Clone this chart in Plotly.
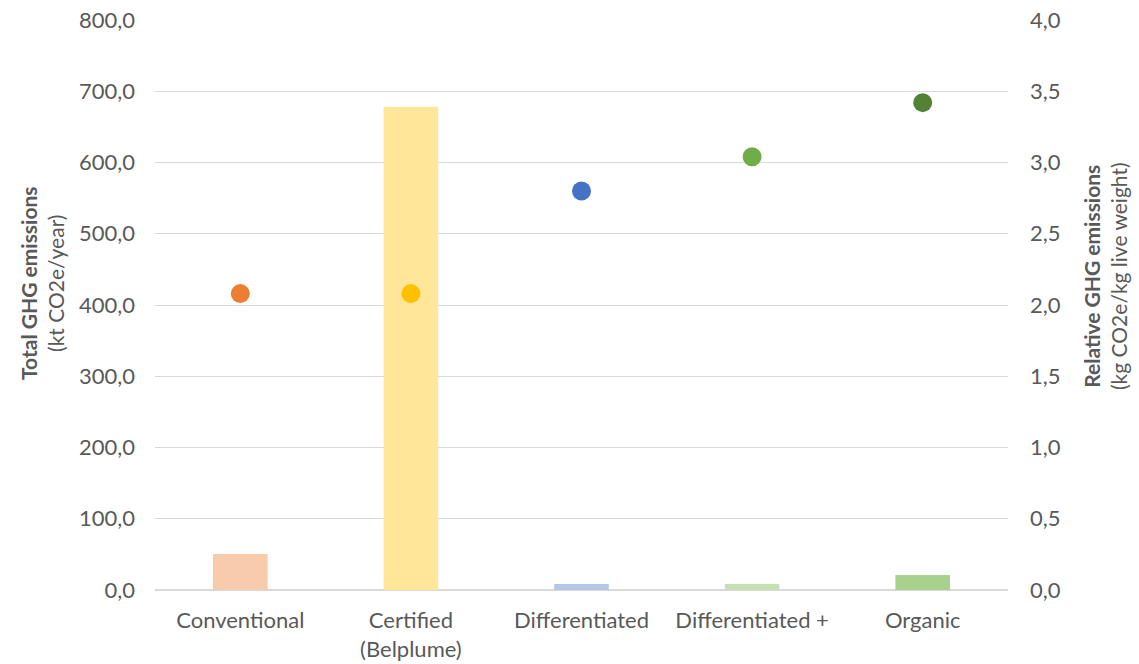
import plotly.graph_objects as go

categories = ["Conventional", "Certified<br>(Belplume)", "Differentiated", "Differentiated +", "Organic"]
total_ghg = [50.5, 678.0, 8.5, 8.5, 21.0]
relative_ghg = [2.08, 2.08, 2.80, 3.04, 3.42]
bar_colors = ["#F8CBAD", "#FFE699", "#B4C7E7", "#C5E0B4", "#A9D18E"]
dot_colors = ["#ED7D31", "#FFC000", "#4472C4", "#70AD47", "#548235"]
left_ticks = [0, 100, 200, 300, 400, 500, 600, 700, 800]
right_ticks = [0, 0.5, 1.0, 1.5, 2.0, 2.5, 3.0, 3.5, 4.0]

font = "Lato, 'Open Sans', sans-serif"
grey = "#595959"

fig = go.Figure()
fig.add_trace(go.Bar(x=categories, y=total_ghg, marker=dict(color=bar_colors, line=dict(width=0)),
                     width=0.32, yaxis="y", showlegend=False))
fig.add_trace(go.Scatter(x=categories, y=relative_ghg, mode="markers", yaxis="y2",
                         marker=dict(color=dot_colors, size=19, line=dict(width=0)), showlegend=False))

fig.update_layout(
    width=1139, height=664,
    margin=dict(l=155, r=131, t=20, b=74),
    plot_bgcolor="white", paper_bgcolor="white",
    font=dict(family=font, size=22, color=grey),
    xaxis=dict(showgrid=False, showline=False, ticks="", automargin=False,
               ticklabelstandoff=15, tickfont=dict(size=22, color=grey)),
    yaxis=dict(range=[0, 800], tickvals=left_ticks, automargin=False,
               ticktext=[f"{v:.1f}".replace(".", ",") for v in left_ticks],
               showgrid=True, gridcolor="#D9D9D9", gridwidth=1, zeroline=True, zerolinecolor="#D9D9D9",
               zerolinewidth=1.5, ticks="", ticklen=0, ticklabelstandoff=19,
               tickfont=dict(size=22, color=grey)),
    yaxis2=dict(range=[0, 4.0], tickvals=right_ticks, automargin=False,
                ticktext=[f"{v:.1f}".replace(".", ",") for v in right_ticks],
                overlaying="y", side="right", showgrid=False, zeroline=False, ticks="",
                ticklabelstandoff=21, tickfont=dict(size=22, color=grey)),
)

fig.add_annotation(text="<b>Total GHG emissions</b><br>(kt CO2e/year)", textangle=-90,
                   xref="paper", yref="paper", x=(42 - 155) / 853, y=(590 - 283) / 570,
                   xanchor="center", yanchor="middle",
                   showarrow=False, font=dict(size=21, color=grey), align="center")
fig.add_annotation(text="<b>Relative GHG emissions</b><br>(kg CO2e/kg live weight)", textangle=-90,
                   xref="paper", yref="paper", x=(1105 - 155) / 853, y=(590 - 276) / 570,
                   xanchor="center", yanchor="middle",
                   showarrow=False, font=dict(size=21, color=grey), align="center")

fig.write_html("out.html", config={"displayModeBar": False},
               post_script="document.body.style.margin='0';document.body.style.padding='0';")
